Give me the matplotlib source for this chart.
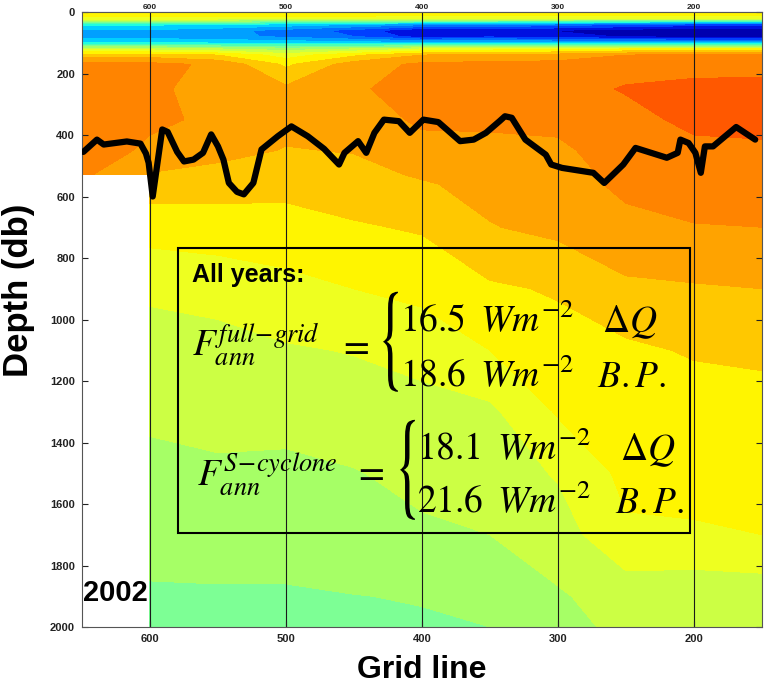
import numpy as np
import matplotlib
matplotlib.use('Agg')
import matplotlib.pyplot as plt
from matplotlib.colors import ListedColormap
from matplotlib.patches import Rectangle, PathPatch
from matplotlib.textpath import TextPath
from matplotlib.font_manager import FontProperties
from matplotlib.transforms import Affine2D

plt.rcParams['font.family'] = ['Liberation Sans', 'DejaVu Sans']
plt.rcParams['mathtext.fontset'] = 'stix'

# узлы разреза: линия сетки и глубина (db)
grid_x = np.array([650, 600, 550, 500, 450, 400, 350, 300, 250, 200, 150])
depth_nodes = np.array([0, 20, 40, 60, 80, 100, 120, 140, 170, 250, 350, 450,
                        530, 560, 700, 900, 1100, 1300, 1500, 1700, 1900, 2000])

# значения поля (номер цветовой полосы), строки - глубины, столбцы - grid_x
section = np.array([
    [12.8, 12.8, 12.8, 12.8, 12.8, 12.8, 12.8, 12.8, 12.8, 12.8, 12.8],
    [11.8, 11.8, 11.8, 11.7, 11.6, 11.5, 11.5, 11.4, 11.3, 11.3, 11.3],
    [6.2, 6.2, 6.0, 5.6, 5.0, 4.2, 4.0, 3.6, 3.0, 2.5, 2.5],
    [4.8, 4.8, 4.4, 3.6, 2.6, 1.0, 1.2, 0.9, 0.5, 0.2, 0.1],
    [4.5, 4.5, 4.3, 3.8, 3.0, 1.5, 1.8, 1.4, 0.9, 0.5, 0.4],
    [6.0, 6.0, 5.8, 5.6, 5.4, 5.2, 5.2, 5.0, 5.0, 4.8, 4.8],
    [10.5, 10.5, 10.0, 9.5, 10.0, 11.0, 11.5, 11.5, 12.0, 12.0, 12.0],
    [13.5, 13.5, 13.0, 11.5, 12.8, 14.0, 14.3, 14.5, 15.0, 15.2, 15.2],
    [15.3, 15.3, 14.8, 12.8, 14.5, 15.2, 15.3, 15.3, 15.5, 15.6, 15.6],
    [15.4, 15.2, 14.6, 14.2, 14.9, 15.3, 15.4, 15.5, 16.1, 16.3, 16.35],
    [15.4, 15.1, 14.9, 14.3, 14.7, 15.1, 15.1, 15.2, 15.6, 16.3, 16.35],
    [15.3, 14.9, 14.3, 13.95, 14.05, 14.8, 14.85, 14.85, 15.4, 15.7, 15.8],
    [15.2, 13.9, 13.7, 13.6, 13.7, 14.1, 14.4, 14.65, 15.25, 15.5, 15.55],
    [13.5, 13.5, 13.4, 13.3, 13.5, 13.9, 14.3, 14.6, 15.2, 15.45, 15.5],
    [12.4, 12.4, 12.5, 12.6, 12.9, 13.1, 13.95, 14.25, 14.75, 14.95, 15.0],
    [11.2, 11.2, 11.4, 11.7, 12.0, 12.3, 12.85, 13.1, 13.8, 13.9, 14.0],
    [10.5, 10.5, 10.6, 10.9, 11.05, 11.3, 12.0, 12.6, 12.8, 13.1, 13.2],
    [10.2, 10.2, 10.3, 10.3, 10.5, 10.7, 10.8, 12.1, 12.5, 12.5, 12.6],
    [9.7, 9.7, 9.85, 9.8, 9.95, 10.25, 10.4, 11.1, 12.25, 12.3, 12.35],
    [9.3, 9.3, 9.4, 9.4, 9.6, 9.85, 10.0, 10.5, 11.85, 11.9, 12.0],
    [8.9, 8.9, 8.9, 8.9, 8.98, 9.05, 9.3, 9.9, 10.4, 10.3, 10.4],
    [8.7, 8.7, 8.8, 8.8, 8.7, 8.9, 9.0, 9.6, 10.3, 10.4, 10.3],
])

# нет данных: восточнее 600 и глубже 530 db
data_edge_x = 600
data_bottom = 530

band_colors = ['#0000b0', '#0010e0', '#0040ff', '#0070ff', '#00a0ff', '#00d0ff',
               '#20ffe0', '#4dffb3', '#7dff95', '#a6ff66', '#ccff44', '#eeff20',
               '#fff500', '#ffc800', '#ffa300', '#ff8400', '#ff5800']

# толстая черная линия
line_grid = [649, 639, 634, 617, 607, 603, 601, 598, 591, 587, 580, 575, 568,
             561, 555, 550, 546, 542, 536, 531, 524, 518, 506, 496, 484, 472,
             461, 457, 447, 441, 435, 428, 417, 409, 399, 388, 372, 362, 353,
             343, 339, 334, 324, 309, 305, 297, 274, 266, 252, 243, 220, 212,
             210, 204, 199, 195, 192, 186, 169, 155]
line_depth = [455, 415, 431, 421, 428, 460, 490, 600, 382, 390, 455, 486, 480,
              458, 398, 437, 480, 556, 585, 593, 556, 447, 404, 372, 404, 445,
              496, 458, 420, 458, 393, 350, 355, 393, 350, 358, 420, 415, 393,
              355, 339, 344, 415, 464, 496, 507, 523, 556, 496, 442, 474, 458,
              415, 426, 458, 523, 437, 437, 374, 415]

grid_ticks = [600, 500, 400, 300, 200]
depth_ticks = np.arange(0, 2001, 200)


def brace(ax, x, y0, y1, width):
    # тонкая фигурная скобка, растянутая по высоте
    tp = TextPath((0, 0), '{', size=1, prop=FontProperties(family='STIXGeneral'))
    ext = tp.get_extents()
    tr = (Affine2D().translate(-ext.x0, -ext.y0)
          .scale(width / ext.width, (y1 - y0) / ext.height)
          .translate(x, y0) + ax.transAxes)
    ax.add_patch(PathPatch(tp, transform=tr, facecolor='black', lw=0, zorder=6))


fig = plt.figure(figsize=(7.64, 6.86), dpi=100)
ax = fig.add_axes([0.1073, 0.0860, 0.8901, 0.8965])

X, Y = np.meshgrid(grid_x, depth_nodes)
field = np.ma.masked_where((X > data_edge_x) & (Y > data_bottom), section)
ax.contourf(X, Y, field, levels=np.arange(0, len(band_colors) + 1),
            cmap=ListedColormap(band_colors), corner_mask=False)

ax.plot(line_grid, line_depth, color='black', lw=4.5,
        solid_joinstyle='round', solid_capstyle='round', zorder=4)

ax.set_xlim(650, 150)
ax.set_ylim(2000, 0)
ax.set_xticks(grid_ticks)
ax.set_yticks(depth_ticks)
ax.xaxis.grid(True, color='#1a1a1a', linewidth=0.8)
ax.tick_params(direction='in', length=4, width=0.8, top=False, right=True,
               labelsize=8, colors='#222222', pad=5)
for lab in ax.get_xticklabels() + ax.get_yticklabels():
    lab.set_fontweight('bold')
for s in ax.spines.values():
    s.set_color('#555555')
    s.set_linewidth(0.8)

# верхняя ось: те же метки, мелко у самого края
top = ax.secondary_xaxis('top')
top.set_xticks(grid_ticks)
top.tick_params(direction='in', length=4, width=0.8, labelsize=6,
                colors='#222222', pad=1)
for lab in top.get_xticklabels():
    lab.set_fontweight('bold')
top.spines['top'].set_color('#555555')
top.spines['top'].set_linewidth(0.8)

ax.set_xlabel('Grid line', fontsize=23, fontweight='bold')
ax.set_ylabel('Depth (db)', fontsize=25, fontweight='bold')
ax.xaxis.set_label_coords(0.5, -0.045)
ax.yaxis.set_label_coords(-0.069, 0.548)

# рамка с текстом
ax.add_patch(Rectangle((0.141, 0.153), 0.753, 0.464, transform=ax.transAxes,
                       fill=False, edgecolor='black', lw=1.5, zorder=5))
ax.text(0.162, 0.573, 'All years:', transform=ax.transAxes, fontsize=18,
        fontweight='bold', ha='left', va='center', zorder=6)

mfs = 27
ax.text(0.162, 0.439, r'$F_{ann}^{full\!-\!grid}$', transform=ax.transAxes,
        fontsize=mfs, ha='left', va='baseline', zorder=6)
ax.text(0.40, 0.4557, r'$=$', transform=ax.transAxes, fontsize=mfs,
        ha='center', va='center', zorder=6)
brace(ax, 0.4426, 0.3824, 0.5452, 0.022)
ax.text(0.4676, 0.480, r'$16.5\;\;Wm^{-2}$', transform=ax.transAxes,
        fontsize=mfs, ha='left', va='baseline', zorder=6)
ax.text(0.4676, 0.3906, r'$18.6\;\;Wm^{-2}$', transform=ax.transAxes,
        fontsize=mfs, ha='left', va='baseline', zorder=6)
ax.text(0.7647, 0.480, r'$\Delta Q$', transform=ax.transAxes, fontsize=mfs,
        ha='left', va='baseline', zorder=6)
ax.text(0.757, 0.3906, r'$B.P.$', transform=ax.transAxes, fontsize=mfs,
        ha='left', va='baseline', zorder=6)

ax.text(0.169, 0.2295, r'$F_{ann}^{S\!-\!cyclone}$', transform=ax.transAxes,
        fontsize=mfs, ha='left', va='baseline', zorder=6)
ax.text(0.422, 0.2506, r'$=$', transform=ax.transAxes, fontsize=mfs,
        ha='center', va='center', zorder=6)
brace(ax, 0.4676, 0.1741, 0.3369, 0.022)
ax.text(0.4926, 0.2718, r'$18.1\;\;Wm^{-2}$', transform=ax.transAxes,
        fontsize=mfs, ha='left', va='baseline', zorder=6)
ax.text(0.4926, 0.1855, r'$21.6\;\;Wm^{-2}$', transform=ax.transAxes,
        fontsize=mfs, ha='left', va='baseline', zorder=6)
ax.text(0.791, 0.2718, r'$\Delta Q$', transform=ax.transAxes, fontsize=mfs,
        ha='left', va='baseline', zorder=6)
ax.text(0.784, 0.1855, r'$B.P.$', transform=ax.transAxes, fontsize=mfs,
        ha='left', va='baseline', zorder=6)

ax.text(0.002, 0.0553, '2002', transform=ax.transAxes, fontsize=21,
        fontweight='bold', ha='left', va='center', zorder=6)

fig.savefig('out.png', dpi=100)
